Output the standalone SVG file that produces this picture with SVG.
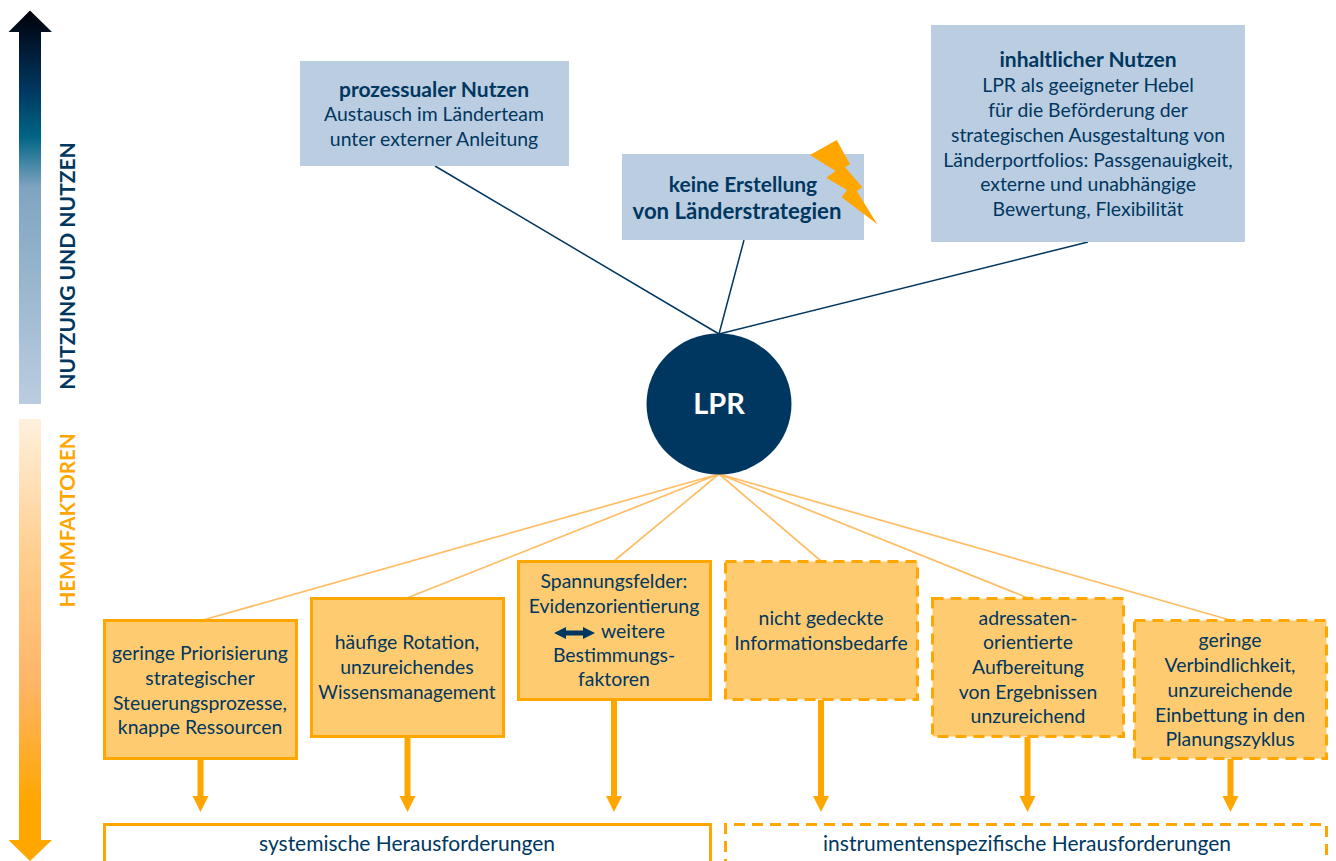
<svg xmlns="http://www.w3.org/2000/svg" width="1336" height="861" viewBox="0 0 1336 861">
<style>
text{font-family:"Lato","Open Sans","Liberation Sans",sans-serif;font-size:19.400px;fill:#003760;text-anchor:middle}
.b{font-weight:700;font-size:21px}
.xl{font-size:21px}
.blue{fill:#bbcde0}
.sol{fill:#ffcb70;stroke:#ffa600;stroke-width:3}
.dash{fill:#ffcb70;stroke:#ffa600;stroke-width:3;stroke-dasharray:11 7}
.ln{stroke:#003760;stroke-width:1.500;fill:none}
.lo{stroke:#ffbd66;stroke-width:1.700;fill:none}
.ar{stroke:#ffa600;stroke-width:6;fill:none}
.hd{fill:#ffa600}
</style>
<defs>
<linearGradient id="gu" x1="0" y1="0" x2="0" y2="1">
<stop offset="0" stop-color="#000008"/><stop offset=".2" stop-color="#003760"/><stop offset=".32" stop-color="#006485"/><stop offset=".45" stop-color="#7fa4c0"/><stop offset="1" stop-color="#bbcde0"/>
</linearGradient>
<linearGradient id="gd" x1="0" y1="0" x2="0" y2="1">
<stop offset="0" stop-color="#fff0dd"/><stop offset=".3" stop-color="#ffcf90"/><stop offset=".6" stop-color="#ffb566"/><stop offset=".87" stop-color="#ffa600"/><stop offset="1" stop-color="#ffa600"/>
</linearGradient>
</defs>
<g id="axis-up"><path d="M19 404V32H8.500L30 10.500 52 32H41V404Z" fill="url(#gu)"/><text class="b" transform="translate(75 266) rotate(-90)">NUTZUNG UND NUTZEN</text></g>
<g id="axis-down"><path d="M19 419H41V840H52L30 861 8.500 840H19Z" fill="url(#gd)"/><text class="b" transform="translate(75 520.500) rotate(-90)" style="font-size:20.500px;fill:#ffa600">HEMMFAKTOREN</text></g>
<g id="connectors">
<path class="ln" d="M435 166 719 334M744 240 719 334M1088 242 719 334"/>
<path class="lo" d="M719 474 203 620M719 474 407 598M719 474 614 561M719 474 821 561M719 474 1028 598M719 474 1230 620"/>
<path class="ar" d="M200.500 759V800M407.500 737V800M614 700V800M821 700V800M1027.500 737V800M1230.500 759V800"/>
<path class="hd" d="M192.500 796H208.500L200.500 812ZM399.500 796H415.500L407.500 812ZM606 796H622L614 812ZM813 796H829L821 812ZM1019.500 796H1035.500L1027.500 812ZM1222.500 796H1238.500L1230.500 812Z"/>
</g>
<g id="n-prozess"><rect class="blue" x="300" y="61" width="269" height="105"/><text class="b" x="434" y="97">prozessualer Nutzen</text><text x="434" y="121">Austausch im Länderteam</text><text x="434" y="146">unter externer Anleitung</text></g>
<g id="n-keine"><rect class="blue" x="622" y="154" width="242" height="86"/><text class="b" x="743" y="192">keine Erstellung</text><text class="b" x="737" y="219" style="font-size:22.200px">von Länderstrategien</text><path class="hd" d="M810 155 835.700 171 826.300 177.700 847 190 841.700 197.300 877.300 224.300 856.700 191 862.300 187.300 845 167.300 850 164.300 836.700 140Z"/></g>
<g id="n-inhalt"><rect class="blue" x="931" y="25" width="314" height="217"/><text class="b" x="1088" y="67">inhaltlicher Nutzen</text><text x="1088" y="92">LPR als geeigneter Hebel</text><text x="1088" y="117">für die Beförderung der</text><text x="1088" y="142">strategischen Ausgestaltung von</text><text x="1088" y="167">Länderportfolios: Passgenauigkeit,</text><text x="1088" y="191">externe und unabhängige</text><text x="1088" y="216">Bewertung, Flexibilität</text></g>
<g id="n-lpr"><ellipse cx="719" cy="404" rx="72.500" ry="70.500" fill="#003760"/><text class="b" x="719" y="414" style="font-size:29px;fill:#fff">LPR</text></g>
<g id="n-prior"><rect class="sol" x="104.500" y="620.500" width="192" height="138"/><text x="200" y="660">geringe Priorisierung</text><text x="200" y="685">strategischer</text><text x="200" y="710">Steuerungsprozesse,</text><text x="200" y="734">knappe Ressourcen</text></g>
<g id="n-rot"><rect class="sol" x="311.500" y="598.500" width="192" height="138"/><text x="407" y="649">häufige Rotation,</text><text x="407" y="674">unzureichendes</text><text x="407" y="699" style="font-size:19px">Wissensmanagement</text></g>
<g id="n-span"><rect class="sol" x="518.500" y="561.500" width="192" height="138"/><text x="614" y="588">Spannungsfelder:</text><text x="614" y="613">Evidenzorientierung</text><text x="633" y="638">weitere</text><text x="614" y="662">Bestimmungs-</text><text x="614" y="686">faktoren</text><path d="M554 633 566 627V630.500H583V627L595 633 583 639V635.500H566V639Z" fill="#003760"/></g>
<g id="n-info"><rect class="dash" x="725.500" y="561.500" width="192" height="138"/><text x="821" y="625">nicht gedeckte</text><text x="821" y="650">Informationsbedarfe</text></g>
<g id="n-adr"><rect class="dash" x="932.500" y="598.500" width="191" height="138"/><text x="1028" y="625">adressaten-</text><text x="1028" y="649">orientierte</text><text x="1028" y="674">Aufbereitung</text><text x="1028" y="699">von Ergebnissen</text><text x="1028" y="723">unzureichend</text></g>
<g id="n-verb"><rect class="dash" x="1134.500" y="620.500" width="192" height="138"/><text x="1230" y="647">geringe</text><text x="1230" y="672">Verbindlichkeit,</text><text x="1230" y="697">unzureichende</text><text x="1230" y="722">Einbettung in den</text><text x="1230" y="746">Planungszyklus</text></g>
<g id="n-sys"><path d="M104.500 870V824.500H710.500V870" fill="#fff" stroke="#ffa600" stroke-width="3"/><text class="xl" x="407" y="851">systemische Herausforderungen</text></g>
<g id="n-inst"><path d="M725.500 870V824.500H1326.500V870" fill="#fff" stroke="#ffa600" stroke-width="3" stroke-dasharray="11 7"/><text class="xl" x="1027" y="851">instrumentenspezifische Herausforderungen</text></g>
</svg>
